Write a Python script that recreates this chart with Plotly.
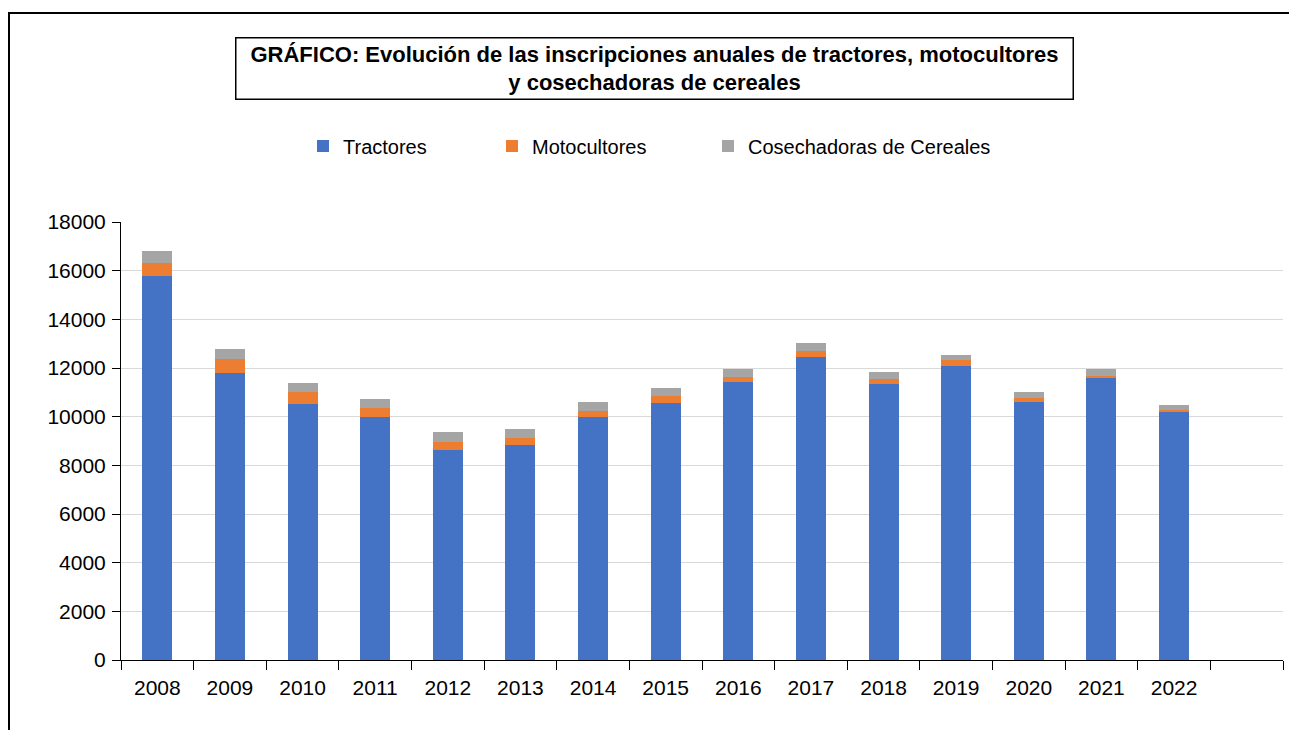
import plotly.graph_objects as go

years = ["2008", "2009", "2010", "2011", "2012", "2013", "2014", "2015",
         "2016", "2017", "2018", "2019", "2020", "2021", "2022"]
tractores = [15800, 11790, 10520, 9970, 8630, 8830, 9990, 10560,
             11410, 12440, 11330, 12070, 10600, 11580, 10190]
motocultores = [500, 575, 490, 380, 330, 290, 245, 300,
                205, 245, 205, 245, 165, 95, 95]
cosechadoras = [500, 410, 360, 360, 410, 370, 370, 316,
                330, 330, 290, 205, 245, 275, 195]
categories = years + [" "]

FONT = "Arial, Liberation Sans, sans-serif"

fig = go.Figure()
fig.add_trace(go.Bar(x=years, y=tractores, name="Tractores",
                     marker=dict(color="#4472C4", line=dict(width=0)),
                     legend="legend"))
fig.add_trace(go.Bar(x=years, y=motocultores, name="Motocultores",
                     marker=dict(color="#ED7D31", line=dict(width=0)),
                     legend="legend2"))
fig.add_trace(go.Bar(x=years, y=cosechadoras, name="Cosechadoras de Cereales",
                     marker=dict(color="#A5A5A5", line=dict(width=0)),
                     legend="legend3"))

# figure is placed 8px in from the page corner (body margin)
OFF = 8
W, H = 1297 - 2 * OFF, 738 - 2 * OFF
L, T = 121 - OFF, 222 - OFF
R = W - (1283 - OFF)
B = H - (660 - OFF)
pw = W - L - R
ph = H - T - B


def px_x(p):
    return (p - OFF - L) / pw


def px_y(p):
    return (H - B - (p - OFF)) / ph


leg_common = dict(orientation="h", yanchor="middle", xanchor="left",
                  font=dict(family=FONT, size=20, color="#000000"),
                  bgcolor="rgba(0,0,0,0)")

fig.update_layout(
    width=W, height=H,
    margin=dict(l=L, r=R, t=T, b=B),
    paper_bgcolor="white", plot_bgcolor="white",
    barmode="stack", bargap=0.587,
    showlegend=True,
    font=dict(family=FONT, size=21, color="#000000"),
    legend=dict(x=px_x(303), y=px_y(146), **leg_common),
    legend2=dict(x=px_x(492), y=px_y(146), **leg_common),
    legend3=dict(x=px_x(708), y=px_y(146), **leg_common),
    xaxis=dict(type="category", categoryorder="array", categoryarray=categories,
               range=[-0.5, 15.5], tickson="boundaries", ticks="outside",
               ticklen=9, tickcolor="#000000", showgrid=False,
               showline=True, linecolor="#000000", linewidth=1,
               ticklabelstandoff=9,
               tickfont=dict(family=FONT, size=21, color="#000000")),
    yaxis=dict(range=[0, 18000], dtick=2000, ticks="outside", ticklen=8,
               tickcolor="#000000", showgrid=True, gridcolor="#D9D9D9",
               gridwidth=1, showline=True, linecolor="#000000", linewidth=1,
               zeroline=False, tickformat="d", ticklabelstandoff=2,
               tickfont=dict(family=FONT, size=21, color="#000000")),
    annotations=[dict(
        xref="paper", yref="paper", x=px_x(654), y=px_y(69),
        xanchor="center", yanchor="middle", showarrow=False,
        text="<b>GRÁFICO: Evolución de las inscripciones anuales de tractores, motocultores<br>y cosechadoras de cereales</b>",
        font=dict(family=FONT, size=22, color="#000000"),
        bordercolor="#000000", borderwidth=1.5, width=834, height=58,
        bgcolor="white", align="center")],
    shapes=[dict(type="rect", xref="paper", yref="paper",
                 x0=px_x(9), x1=px_x(1400), y0=px_y(800), y1=px_y(13),
                 line=dict(color="#000000", width=2), layer="above")],
)

fig.write_html("out.html")
